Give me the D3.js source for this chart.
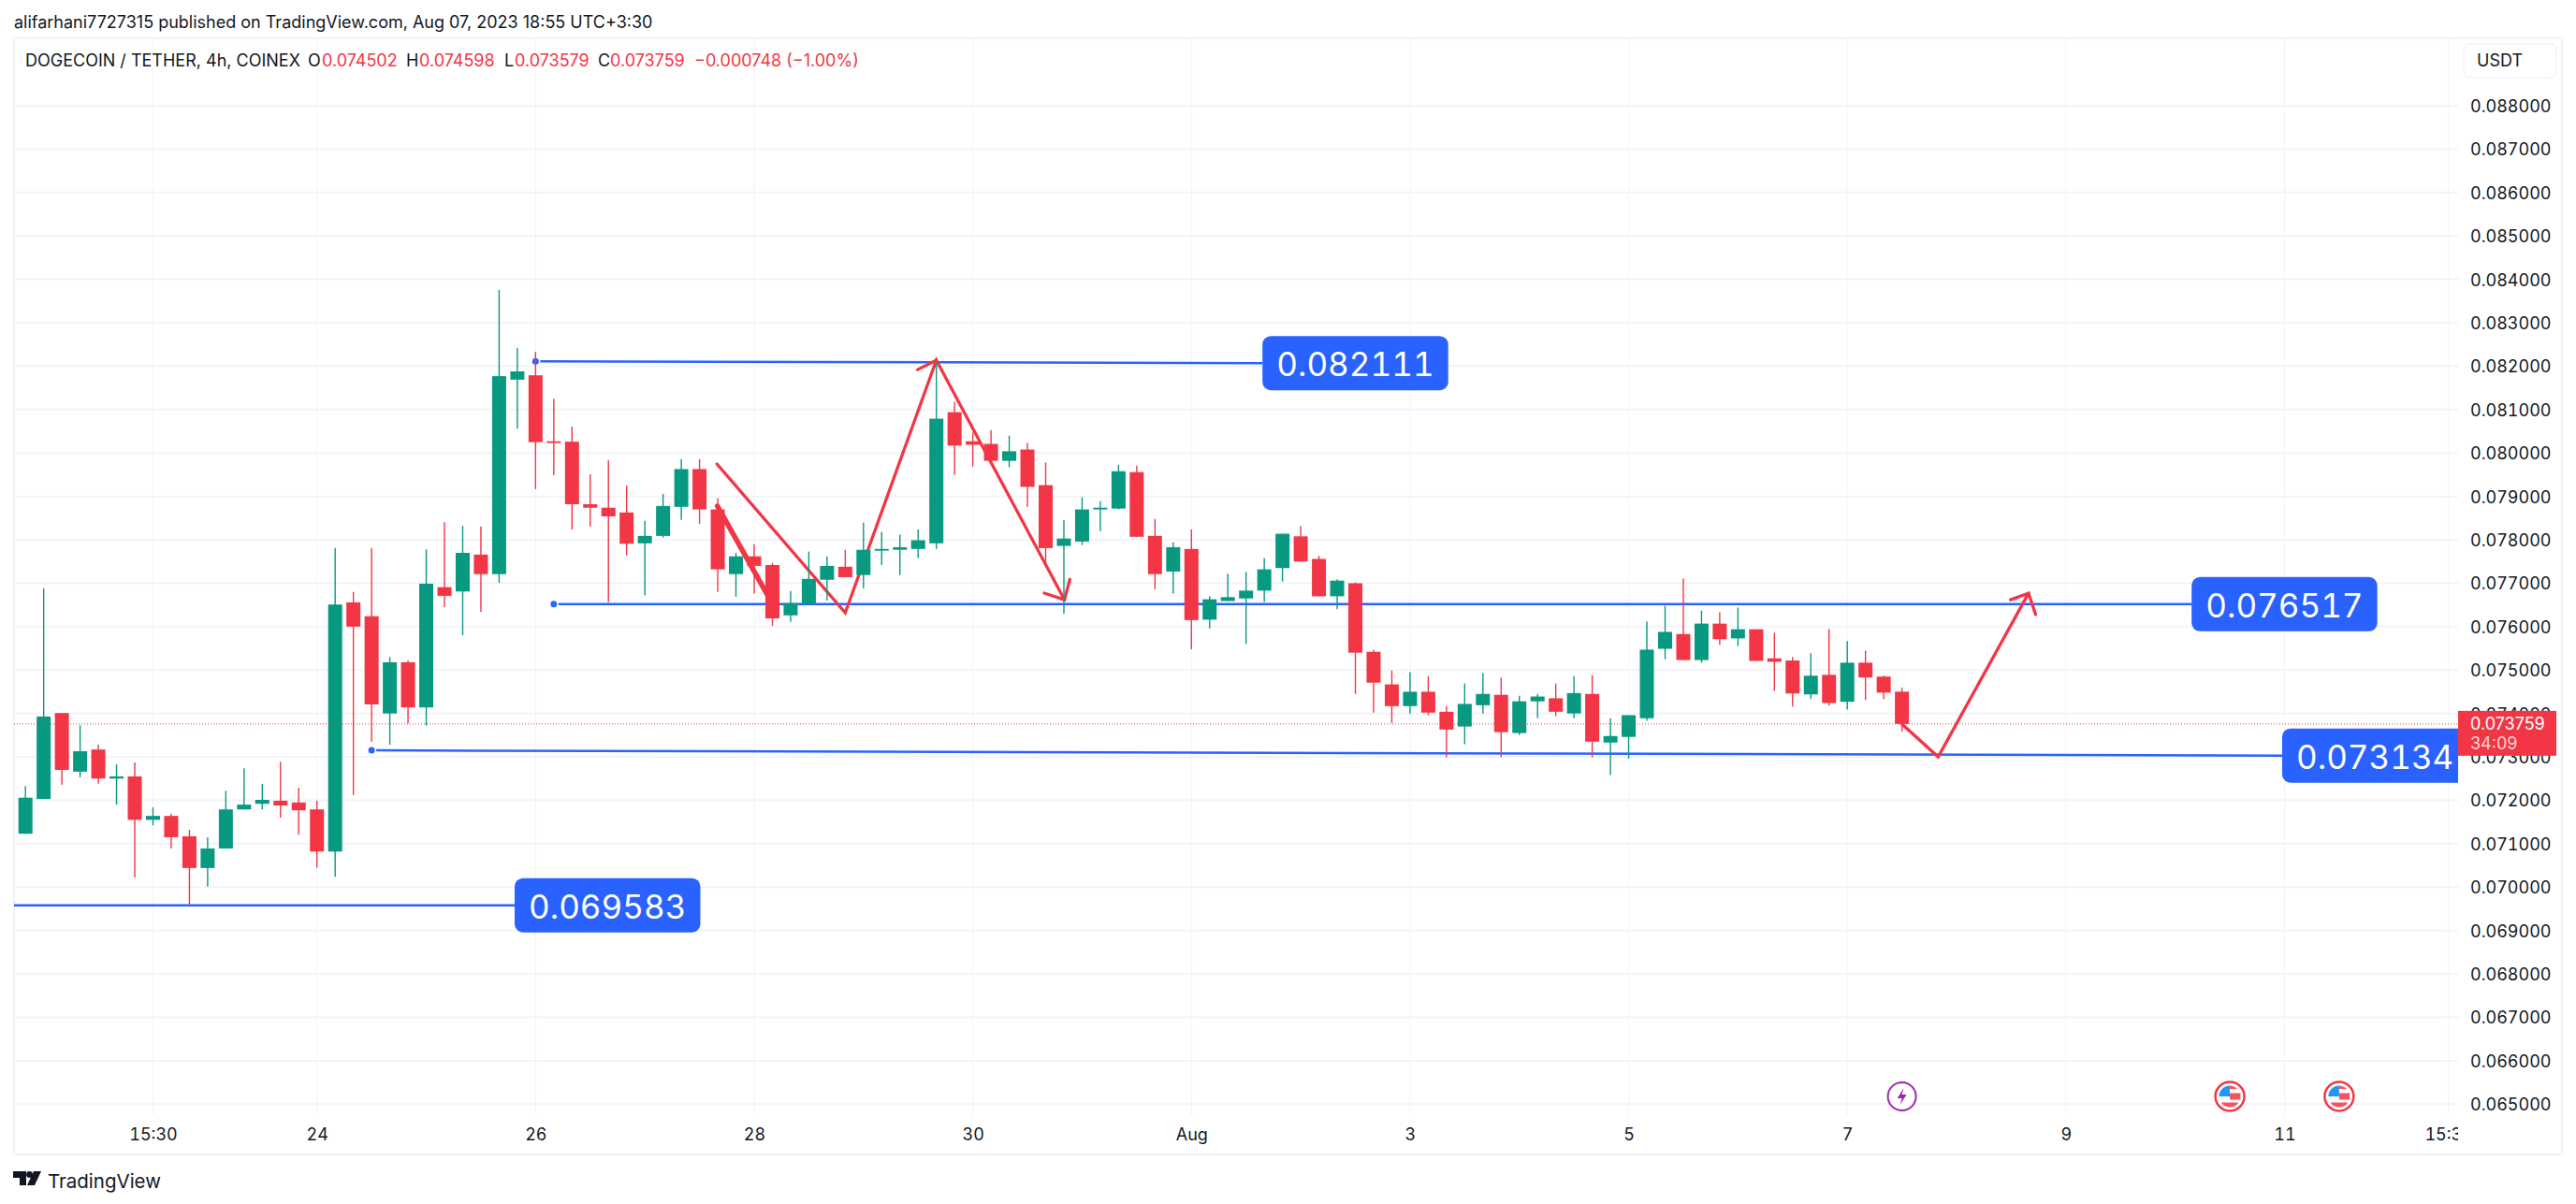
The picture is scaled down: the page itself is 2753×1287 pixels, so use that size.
<!DOCTYPE html>
<html>
<head>
<meta charset="utf-8">
<script src="https://cdn.jsdelivr.net/npm/d3@7"></script>
<style>
  body { margin: 0; background: #fff; }
  svg { display: block; }
  text { font-family: Inter, "Noto Sans", sans-serif; fill: #131722; }
  .axis text { font-size: 18px; font-variant-numeric: tabular-nums; }
  .axis path, .axis line { display: none; }
  .levelText { font-variant-numeric: tabular-nums; }
</style>
</head>
<body>
<div id="chart-container"></div>
<script>
// all prices below are in thousandths of a USDT
const opens = [71.23,72.03,74.01,72.66,73.17,72.50,72.55,71.55,71.64,71.17,70.44,70.89,71.79,71.92,71.99,71.95,71.79,70.82,76.56,76.24,
  74.00,75.18,74.14,76.91,76.81,77.66,77.21,81.69,81.79,80.27,80.26,78.82,78.74,78.63,77.92,78.09,78.76,79.63,78.70,77.21,
  77.62,77.42,76.26,76.52,77.08,77.38,77.19,77.75,77.77,77.79,77.92,80.94,80.27,80.21,79.82,80.08,79.26,77.86,77.96,78.70,
  78.72,79.56,78.09,77.27,77.79,76.16,76.59,76.65,76.83,77.35,78.08,77.56,76.70,77.00,75.42,74.67,74.17,74.50,74.04,73.70,
  74.19,74.43,73.55,74.28,74.35,74.00,74.45,73.33,73.46,73.89,75.49,75.83,75.23,76.07,75.73,75.94,75.27,75.22,74.44,74.89,
  74.27,75.17,74.85,74.502];
const highs = [72.33,76.88,74.01,73.73,73.28,72.83,72.87,71.84,71.69,71.32,71.15,72.22,72.74,72.38,72.89,72.29,71.99,77.81,76.80,77.81,
  75.30,75.22,77.78,78.41,78.32,78.31,83.76,82.42,82.33,81.25,80.61,79.51,79.83,79.25,78.44,79.06,79.86,79.86,78.96,77.70,
  77.90,77.47,76.82,77.73,77.62,77.77,78.40,78.18,78.12,78.24,82.10,81.18,80.47,80.53,80.40,80.23,79.78,78.46,78.98,78.89,
  79.73,79.71,78.48,77.94,78.24,76.70,77.22,77.26,77.58,78.14,78.32,77.63,77.09,77.02,75.47,74.99,74.95,74.86,74.17,74.69,
  74.93,74.82,74.41,74.45,74.69,74.86,74.88,73.89,73.96,76.12,76.48,77.11,76.37,76.33,76.44,75.94,75.86,75.30,75.39,75.95,
  75.67,75.45,74.87,74.598];
const lows = [71.23,72.03,72.36,72.53,72.38,71.90,70.22,71.42,70.89,69.583,70.01,70.89,71.79,71.79,71.60,71.21,70.45,70.24,72.12,73.35,
  73.28,73.77,73.72,76.45,75.80,76.34,77.01,80.56,79.17,79.49,78.24,78.31,76.56,77.64,76.72,78.05,78.46,78.37,76.80,76.69,
  76.76,76.02,76.11,76.52,76.60,77.14,76.88,77.42,77.19,77.58,77.79,79.50,79.69,79.82,79.67,78.76,77.38,76.30,77.88,78.20,
  78.70,78.07,76.86,76.76,75.48,75.96,76.59,75.60,76.57,77.04,77.50,76.70,76.40,74.45,74.02,73.78,74.00,73.96,72.99,73.29,
  74.00,72.99,73.50,73.89,73.94,73.89,72.99,72.58,72.96,73.83,75.25,75.23,75.17,75.58,75.55,75.21,74.52,74.16,74.33,74.18,
  74.09,74.31,74.33,73.579];
const closes = [72.06,73.93,72.70,73.13,72.50,72.55,71.55,71.64,71.15,70.44,70.89,71.79,71.90,72.01,71.88,71.77,70.82,76.51,76.00,74.21,
  75.18,74.14,76.99,76.71,77.70,77.21,81.77,81.88,80.25,80.23,78.82,78.74,78.54,77.91,78.09,78.78,79.63,78.70,77.32,77.62,
  77.40,76.19,76.54,77.10,77.40,77.14,77.77,77.79,77.83,77.99,80.79,80.17,80.19,79.82,80.04,79.22,77.81,78.03,78.70,78.74,
  79.58,78.07,77.21,77.83,76.15,76.63,76.68,76.83,77.32,78.14,77.50,76.70,77.06,75.40,74.71,74.17,74.50,74.02,73.63,74.22,
  74.45,73.57,74.28,74.39,74.04,74.47,73.35,73.48,73.96,75.47,75.88,75.23,76.07,75.71,75.94,75.21,75.19,74.46,74.87,74.24,
  75.17,74.83,74.48,73.759];

const priceTicks = d3.range(65, 89);
const timeBars = [7, 16, 28, 40, 52, 64, 76, 88, 100, 112, 124, 133];
const timeLabels = ["15:30", "24", "26", "28", "30", "Aug", "3", "5", "7", "9", "11", "15:30"];

// horizontal rays: [start bar, start price, end bar, end price, label]
const levels = [
  [28, 82.111, 67.9, 82.07, "0.082111"],
  [29, 76.517, 118.9, 76.517, "0.076517"],
  [19, 73.15, 123.87, 73.03, "0.073134"],
  [-2, 69.583, 26.85, 69.583, "0.069583"]
];
// hand drawn red paths as [bar, price] pairs
const arrows = [
  [[37.96, 79.746], [45, 76.319], [50, 82.138], [57.03, 76.621]],
  [[55.92, 76.772], [57.03, 76.621], [57.33, 77.09]],
  [[48.97, 81.92], [50, 82.138]],
  [[102.99, 73.76], [104.99, 73.0], [109.95, 76.77]],
  [[108.96, 76.62], [109.95, 76.77], [110.34, 76.28]]
];
const thickArrow = [[37.98, 78.78], [41.13, 76.43]];
const lastPrice = 73.759;
const legend = [
  ["DOGECOIN / TETHER, 4h, COINEX", 27, "#131722"],
  ["O", 329, "#131722"], ["0.074502", 344, "#f23645"],
  ["H", 434, "#131722"], ["0.074598", 448, "#f23645"],
  ["L", 539, "#131722"], ["0.073579", 550, "#f23645"],
  ["C", 639, "#131722"], ["0.073759", 652, "#f23645"],
  ["\u22120.000748 (\u22121.00%)", 742, "#f23645"]
];
const flagBars = [121, 127]; // the two US flag events
const boltBar = 103;

const svgWidth = 2753;
const svgHeight = 1287;
const plot = { left: 15, right: 2627, top: 41, bottom: 1192 };
const green = "#089981";
const red = "#f23645";
const blue = "#2962ff";

const svg = d3.select("#chart-container")
  .append("svg")
  .attr("width", svgWidth)
  .attr("height", svgHeight);

const x = d3.scaleLinear().domain([0, 133]).range([27.2, 2616.7]);
const y = d3.scaleLinear().domain([65, 88]).range([1180.3, 113]);

svg.append("clipPath").attr("id", "plotClip")
  .append("rect")
  .attr("x", plot.left).attr("y", plot.top)
  .attr("width", plot.right - plot.left).attr("height", svgHeight - plot.top);

// header line
svg.append("text").text("alifarhani7727315 published on TradingView.com, Aug 07, 2023 18:55 UTC+3:30")
  .attr("x", 15).attr("y", 30).attr("font-size", 18);

// frame
svg.append("rect")
  .attr("x", 15).attr("y", 41).attr("width", 2723).attr("height", 1193)
  .attr("fill", "none").attr("stroke", "#f0f3fa").attr("stroke-width", 2.5);

// grid
const chart = svg.append("g").attr("clip-path", "url(#plotClip)");
chart.append("g").selectAll("line").data(priceTicks).join("line")
  .attr("x1", plot.left).attr("x2", plot.right)
  .attr("y1", d => y(d)).attr("y2", d => y(d))
  .attr("stroke", "#f2f4f9").attr("stroke-width", 2);
chart.append("g").selectAll("line").data(timeBars).join("line")
  .attr("x1", d => x(d)).attr("x2", d => x(d))
  .attr("y1", plot.top).attr("y2", plot.bottom)
  .attr("stroke", "#f0f3fa").attr("stroke-width", 1);

// legend sits on top of the grid
svg.append("g").selectAll("text").data(legend).join("text")
  .text(d => d[0])
  .attr("x", d => d[1]).attr("y", 71)
  .attr("font-size", 18)
  .style("fill", d => d[2]);

// blue rays, behind the candles
chart.append("g").selectAll("line").data(levels).join("line")
  .attr("x1", d => x(d[0]) + 5).attr("y1", d => y(d[1]))
  .attr("x2", d => x(d[2])).attr("y2", d => y(d[3]))
  .attr("stroke", blue).attr("stroke-width", 2.5);
chart.append("g").selectAll("circle").data(levels.slice(0, 3)).join("circle")
  .attr("cx", d => x(d[0])).attr("cy", d => y(d[1]))
  .attr("r", 3.5).attr("fill", blue);

// red arrows, also behind the candles
const arrowLine = d3.line().x(d => x(d[0])).y(d => y(d[1]));
chart.append("g").selectAll("path").data(arrows).join("path")
  .attr("d", arrowLine)
  .attr("fill", "none").attr("stroke", red).attr("stroke-width", 3.3)
  .attr("stroke-linejoin", "miter").attr("stroke-linecap", "round");
chart.append("path").attr("d", arrowLine(thickArrow))
  .attr("fill", "none").attr("stroke", red).attr("stroke-width", 5.5)
  .attr("stroke-linecap", "round");

// candles
const bars = d3.range(opens.length);
const candleColor = i => closes[i] >= opens[i] ? green : red;
const candles = chart.append("g").selectAll("g").data(bars).join("g");
candles.append("line")
  .attr("x1", i => x(i)).attr("x2", i => x(i))
  .attr("y1", i => y(highs[i])).attr("y2", i => y(lows[i]))
  .attr("stroke", candleColor).attr("stroke-width", 1.4);
candles.append("rect")
  .attr("x", i => x(i) - 7.5)
  .attr("width", 15)
  .attr("y", i => y(Math.max(opens[i], closes[i])))
  .attr("height", i => Math.max(1.5, Math.abs(y(opens[i]) - y(closes[i]))))
  .attr("fill", candleColor);

// dotted last price line
chart.append("line")
  .attr("x1", plot.left).attr("x2", plot.right)
  .attr("y1", y(lastPrice)).attr("y2", y(lastPrice))
  .attr("stroke", red).attr("stroke-width", 1).attr("stroke-dasharray", "1 2");

// axes
const priceAxis = svg.append("g").attr("class", "axis")
  .attr("transform", `translate(${plot.right},0)`)
  .call(d3.axisRight(y).tickValues(priceTicks).tickSize(0).tickPadding(13)
    .tickFormat(d => (d / 1000).toFixed(6)));
priceAxis.selectAll("text").attr("dy", "0.36em");
svg.append("g").attr("class", "axis")
  .attr("clip-path", "url(#plotClip)")
  .append("g")
  .attr("transform", "translate(0,1193)")
  .call(d3.axisBottom(x).tickValues(timeBars).tickSize(0).tickPadding(13)
    .tickFormat((d, i) => timeLabels[i]));

// level labels go over everything in the pane
const labels = chart.append("g").selectAll("g").data(levels).join("g")
  .attr("transform", d => `translate(${x(d[2])},${y(d[3])})`);
labels.append("rect")
  .attr("x", 0).attr("y", -29).attr("width", 198.5).attr("height", 58).attr("rx", 9)
  .attr("fill", blue);
labels.append("text").text(d => d[4])
  .attr("class", "levelText")
  .attr("x", 99.25).attr("y", 1)
  .attr("text-anchor", "middle").attr("dominant-baseline", "central")
  .attr("font-size", 35)
  .style("fill", "#fff");

// last price tag
const tag = svg.append("g").attr("transform", `translate(${plot.right},${y(lastPrice)})`);
tag.append("rect").attr("x", 0).attr("y", -14).attr("width", 105).attr("height", 48).attr("fill", red);
tag.append("text").text((lastPrice / 1000).toFixed(6))
  .attr("x", 13).attr("y", 0).attr("dominant-baseline", "central")
  .attr("font-size", 18).style("fill", "#fff");
tag.append("text").text("34:09")
  .attr("x", 13).attr("y", 21).attr("dominant-baseline", "central")
  .attr("font-size", 18).style("fill", "#ffd3d7");

// USDT button
svg.append("rect")
  .attr("x", 2633).attr("y", 47).attr("width", 99).attr("height", 36).attr("rx", 6)
  .attr("fill", "#fff").attr("stroke", "#f0f3fa").attr("stroke-width", 1.5);
svg.append("text").text("USDT")
  .attr("x", 2647).attr("y", 71).attr("font-size", 18);

// event icons along the bottom
const iconY = 1172;
const bolt = svg.append("g").attr("transform", `translate(${x(boltBar)},${iconY})`);
bolt.append("circle").attr("r", 15).attr("fill", "#fff").attr("stroke", "#9c27b0").attr("stroke-width", 2);
bolt.append("path").attr("d", "M2,-9 L-5,2 L0,2 L-2,9 L5,-2 L0,-2 Z").attr("fill", "#9c27b0");

const flags = svg.append("g").selectAll("g").data(flagBars).join("g")
  .attr("transform", d => `translate(${x(d)},${iconY})`);
flags.append("circle").attr("r", 15.5).attr("fill", "#fff").attr("stroke", red).attr("stroke-width", 2.5);
flags.append("circle").attr("r", 11.5).attr("fill", "#fff");
flags.append("path").attr("d", "M-11.5,0 A11.5,11.5 0 0 1 0,-11.5 L0,0 Z").attr("fill", "#2196f3");
flags.append("path").attr("d", "M0,-11.5 A11.5,11.5 0 0 1 8,-8 L0,-8 Z").attr("fill", "#f7525f");
flags.append("rect").attr("x", 0).attr("y", -3.5).attr("width", 11.3).attr("height", 7).attr("fill", "#f7525f");
flags.append("path").attr("d", "M-9.5,6.5 L9.5,6.5 A11.5,11.5 0 0 1 -9.5,6.5 Z").attr("fill", "#f7525f");

// TradingView logo and name
svg.append("path")
  .attr("d", "M14,1252 H28 V1267 H21 V1259 H14 Z M44,1252 L37,1267 H29 L36,1252 Z")
  .attr("fill", "#131722");
svg.append("circle").attr("cx", 31.5).attr("cy", 1255.5).attr("r", 3.4).attr("fill", "#131722");
svg.append("text").text("TradingView")
  .attr("x", 51).attr("y", 1270).attr("font-size", 20.5);
</script>
</body>
</html>
